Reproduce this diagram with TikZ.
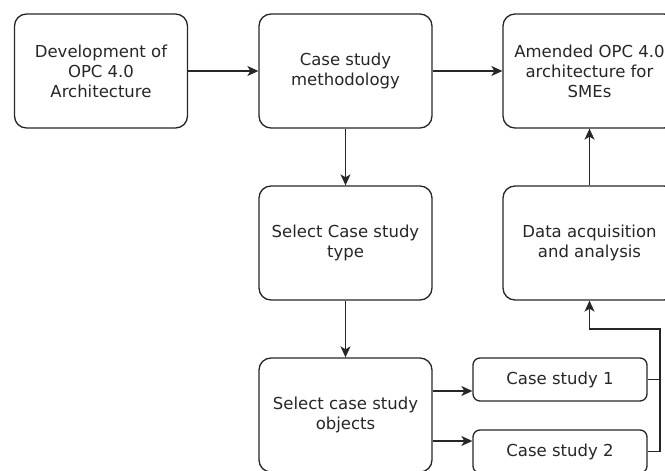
\documentclass[tikz,border=0pt]{standalone}
\usepackage{fontspec}
\setmainfont{DejaVu Sans}
\usetikzlibrary{arrows.meta}
\definecolor{linegray}{HTML}{262626}
\tikzset{
    box/.style={draw=linegray, line width=1.3pt, rounded corners=12pt, minimum width=173pt, minimum height=114pt, align=center, text=linegray, font=\fontsize{16.5}{20}\selectfont},
    smallbox/.style={box, rounded corners=7pt, minimum width=174pt, minimum height=43pt},
    arr/.style={draw=linegray, line width=1.3pt, -{Stealth[length=11pt,width=10pt,inset=3pt]}},
    link/.style={draw=linegray, line width=1.3pt}
}
\begin{document}
\begin{tikzpicture}[x=1pt,y=-1pt]
    % Page frame
    \useasboundingbox (0,0) rectangle (665,471);
    \clip (0,0) rectangle (665,471);

    % Top row
    \node[box] (devel) at (101,71) {Development of\\OPC 4.0\\Architecture};
    \node[box] (method) at (345.5,71) {Case study\\methodology};
    \node[box] (amended) at (589.5,71) {Amended OPC 4.0\\architecture for\\SMEs};

    % Middle row
    \node[box] (cstype) at (345.5,243) {Select Case study\\type};
    \node[box] (dataacq) at (589.5,243) {Data acquisition\\and analysis};

    % Bottom row
    \node[box] (csobj) at (345.5,415) {Select case study\\objects};
    \node[smallbox] (cs1) at (560,379.5) {Case study 1};
    \node[smallbox] (cs2) at (560,451.5) {Case study 2};

    % Join point on the right
    \coordinate (join) at (660,329);

    % Draw the arrows
    \draw[arr] (devel) -- (method);
    \draw[arr] (method) -- (amended);
    \draw[arr] (method) -- (cstype);
    \draw[arr] (cstype) -- (csobj);
    \draw[arr] (dataacq) -- (amended);
    \draw[arr] (csobj.east |- 0,391) -- (cs1.west |- 0,391);
    \draw[arr] (csobj.east |- 0,441) -- (cs2.west |- 0,441);

    % Gather the case studies
    \draw[link] (cs1.east) -- (cs1.east -| join);
    \draw[arr] (cs2.east) -- (cs2.east -| join) -- (join) -- (join -| dataacq.south) -- (dataacq.south);
\end{tikzpicture}
\end{document}
